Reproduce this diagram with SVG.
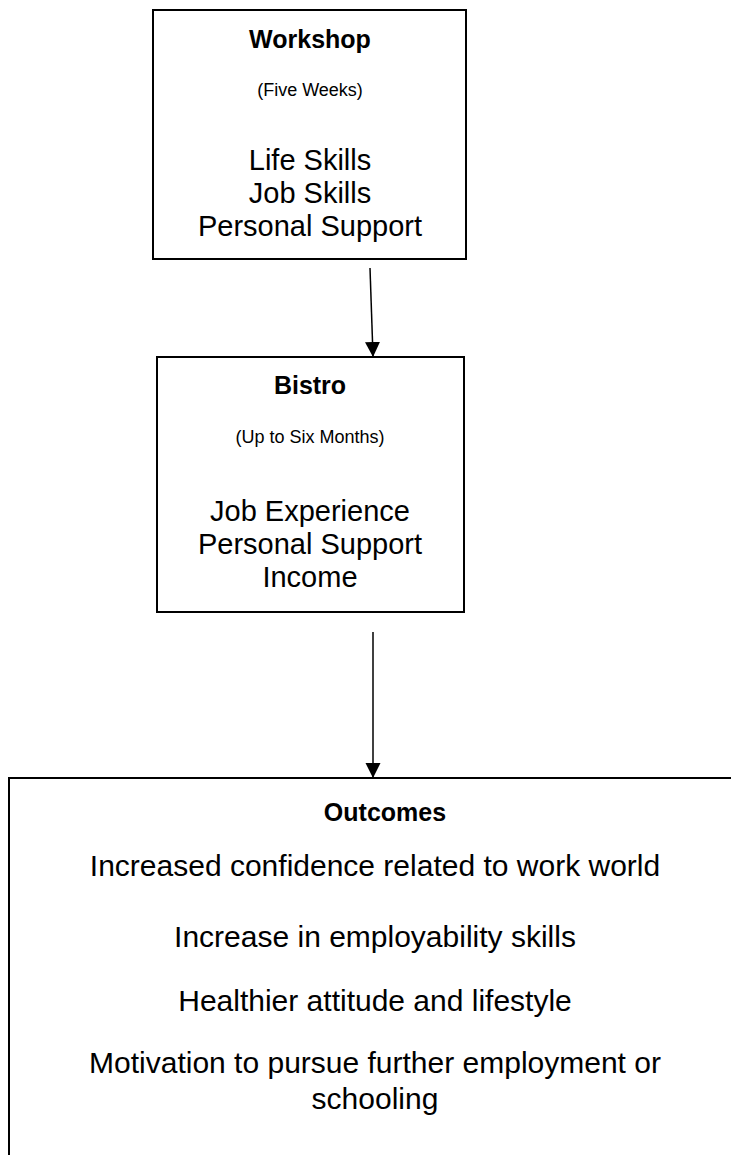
<svg xmlns="http://www.w3.org/2000/svg" width="731" height="1155" viewBox="0 0 731 1155">
<defs>
<marker id="ah" markerWidth="16" markerHeight="16" refX="14" refY="7.5" orient="auto" markerUnits="userSpaceOnUse">
<path d="M0,0 L15,7.5 L0,15 Z" fill="#000"/>
</marker>
<style>
.box{fill:#fff;stroke:#000;stroke-width:2}
.t{font-family:"Liberation Sans",Arial,sans-serif;font-weight:bold;font-size:25px;text-anchor:middle;fill:#000}
.s{font-family:"Liberation Sans",Arial,sans-serif;font-size:18px;text-anchor:middle;fill:#000}
.b{font-family:"Liberation Sans",Arial,sans-serif;font-size:29px;text-anchor:middle;fill:#000}
.o{font-family:"Liberation Sans",Arial,sans-serif;font-size:30px;text-anchor:middle;fill:#000}
.c{stroke:#000;stroke-width:1.5;fill:none}
</style>
</defs>
<rect width="731" height="1155" fill="#fff"/>
<g id="workshop">
<rect class="box" x="153" y="10" width="313" height="249"/>
<text class="t" x="310" y="48">Workshop</text>
<text class="s" x="310" y="96">(Five Weeks)</text>
<text class="b" x="310" y="170">Life Skills</text>
<text class="b" x="310" y="203">Job Skills</text>
<text class="b" x="310" y="236">Personal Support</text>
</g>
<g id="bistro">
<rect class="box" x="157" y="357" width="307" height="255"/>
<text class="t" x="310" y="394">Bistro</text>
<text class="s" x="310" y="443">(Up to Six Months)</text>
<text class="b" x="310" y="521">Job Experience</text>
<text class="b" x="310" y="554">Personal Support</text>
<text class="b" x="310" y="587">Income</text>
</g>
<g id="outcomes">
<path class="box" d="M731,778 L9,778 L9,1155"/>
<text class="t" x="385" y="821">Outcomes</text>
<text class="o" x="375" y="876">Increased confidence related to work world</text>
<text class="o" x="375" y="947">Increase in employability skills</text>
<text class="o" x="375" y="1011">Healthier attitude and lifestyle</text>
<text class="o" x="375" y="1073">Motivation to pursue further employment or</text>
<text class="o" x="375" y="1109">schooling</text>
</g>
<g id="connectors">
<line class="c" x1="370" y1="268" x2="373" y2="356" marker-end="url(#ah)"/>
<line class="c" x1="373" y1="632" x2="373" y2="777" marker-end="url(#ah)"/>
</g>
</svg>
